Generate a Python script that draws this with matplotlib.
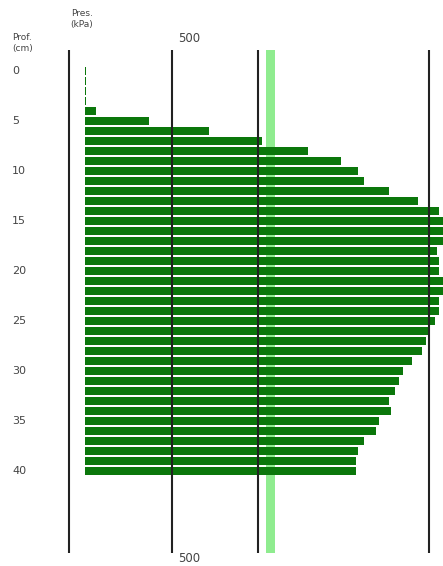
#!/usr/bin/env python3
"""
Penetration resistance profile: horizontal bars of pressure (kPa) per depth (cm).
Writes: out.png
"""
import matplotlib
matplotlib.use("Agg")
import matplotlib.pyplot as plt

# Depth (cm) of each reading and the measured pressure (kPa)
depths = list(range(0, 41))
pressure = [
    6, 6, 6, 6, 63, 371, 717, 1019, 1288, 1475,
    1576, 1609, 1755, 1922, 2043, 2085, 2100, 2095, 2032, 2043,
    2043, 2080, 2090, 2043, 2043, 2018, 1990, 1966, 1942, 1888,
    1832, 1811, 1788, 1755, 1765, 1697, 1676, 1609, 1576, 1563,
    1563,
]

depth_ticks = [0, 5, 10, 15, 20, 25, 30, 35, 40]
grid_lines = [500, 1000]
frame_left, frame_right = -90, 1985
limit_band = (1042, 1097)

BAR_COLOR = "#0b770b"
BAND_COLOR = "#8fec8f"
LINE_COLOR = "#222222"
TEXT_COLOR = "#444444"

W, H = 443, 566
PX_PER_KPA = 0.1734
X0_PX = 85          # pixel column of 0 kPa
Y0_PX = 71          # pixel row of 0 cm
PX_PER_CM = 10.0

fig = plt.figure(figsize=(W / 100, H / 100), dpi=100)
ax = fig.add_axes([0, 0, 1, 1])
ax.set_xlim(-X0_PX / PX_PER_KPA, (W - X0_PX) / PX_PER_KPA)
ax.set_ylim((H - Y0_PX) / PX_PER_CM, -Y0_PX / PX_PER_CM)
ax.axis("off")

y_top = (50 - Y0_PX) / PX_PER_CM
y_bot = (553 - Y0_PX) / PX_PER_CM

# threshold band sits behind the bars
ax.fill_betweenx([y_top, y_bot], limit_band[0], limit_band[1],
                 color=BAND_COLOR, linewidth=0, zorder=1)

ax.barh(depths, pressure, height=0.8, left=0, color=BAR_COLOR,
        edgecolor="none", zorder=2)

ax.vlines([frame_left] + grid_lines + [frame_right], y_top, y_bot,
          color=LINE_COLOR, linewidth=1.5, zorder=3)


def px_x(px):
    return (px - X0_PX) / PX_PER_KPA


def px_y(py):
    return (py - Y0_PX) / PX_PER_CM


for d in depth_ticks:
    ax.text(px_x(12), d, str(d), ha="left", va="center",
            fontsize=8, color=TEXT_COLOR)

ax.text(px_x(12), px_y(37), "Prof.", ha="left", va="center",
        fontsize=6.5, color=TEXT_COLOR)
ax.text(px_x(12), px_y(48), "(cm)", ha="left", va="center",
        fontsize=6.5, color=TEXT_COLOR)
ax.text(px_x(71), px_y(13), "Pres.", ha="left", va="center",
        fontsize=6.5, color=TEXT_COLOR)
ax.text(px_x(70), px_y(25), "(kPa)", ha="left", va="center",
        fontsize=6.5, color=TEXT_COLOR)

ax.text(px_x(189), px_y(39), "500", ha="center", va="center",
        fontsize=8.5, color=TEXT_COLOR)
ax.text(px_x(189), px_y(559), "500", ha="center", va="center",
        fontsize=8.5, color=TEXT_COLOR)

fig.savefig("out.png", dpi=100, facecolor="white")
plt.close(fig)
